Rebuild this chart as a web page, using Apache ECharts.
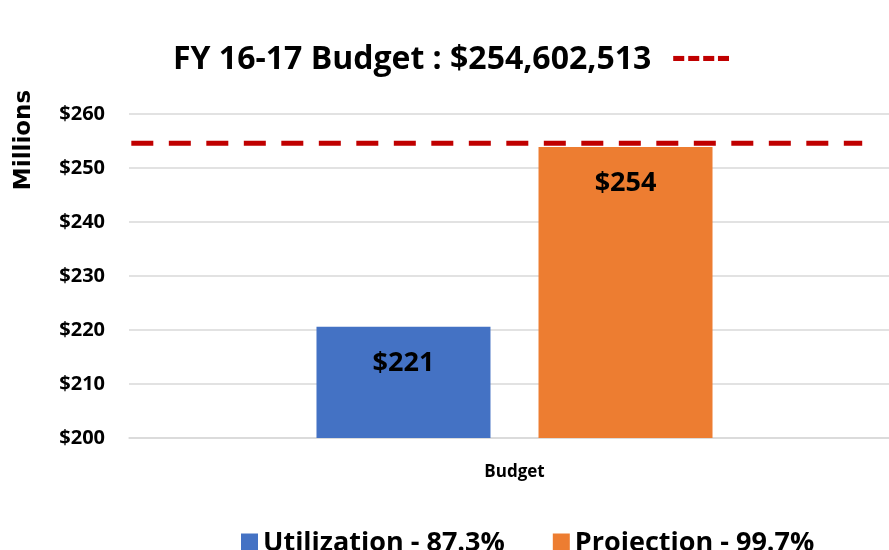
<!DOCTYPE html>
<html>
<head>
<meta charset="utf-8">
<script src="https://cdn.jsdelivr.net/npm/echarts@6/dist/echarts.min.js"></script>
<style>
  html, body { margin: 0; padding: 0; background: #fff; }
  #chart { width: 889px; height: 550px; }
</style>
</head>
<body>
<div id="chart"></div>
<script>
var categories = ["Budget"]
var utilization = [220.6]
var projection = [253.9]
var budgetLine = 254.6
var seriesNames = ["Utilization - 87.3%", "Projection - 99.7%"]
var yTicks = { min: 200, max: 260, step: 10 }
// the budget line spans this share of the plot width
var lineSpan = [0.003, 0.951]

var FONT = "'Open Sans', sans-serif"
var myChart = echarts.init(document.getElementById("chart"))

var labelStyle = {
  show: true,
  position: "insideTop",
  distance: 23,
  color: "#000",
  fontFamily: FONT,
  fontWeight: "bold",
  fontSize: 27,
  formatter: function (p) { return "$" + Math.round(p.value) }
}

myChart.setOption({
  animation: false,
  title: {
    text: "{t|FY 16-17 Budget : $254,602,513}    {d|----}",
    left: 168,
    top: 37,
    textStyle: {
      rich: {
        t: { fontFamily: FONT, fontWeight: "bold", fontSize: 32, color: "#000" },
        d: { fontFamily: "'DejaVu Sans', sans-serif", fontWeight: "bold", fontSize: 36, color: "#c00000" }
      }
    }
  },
  legend: {
    bottom: -12,
    left: 236,
    itemWidth: 17,
    itemHeight: 20,
    itemGap: 48,
    icon: "rect",
    textStyle: { fontFamily: FONT, fontWeight: "bold", fontSize: 27, color: "#000" },
    data: seriesNames
  },
  grid: { left: 129, right: -11, top: 114, bottom: 112, outerBoundsMode: "none" },
  xAxis: [
    {
      type: "category",
      data: categories,
      axisLine: { lineStyle: { color: "#d9d9d9", width: 1.5 } },
      axisTick: { show: false },
      axisLabel: { color: "#000", fontFamily: FONT, fontWeight: "bold", fontSize: 17, margin: 26 }
    },
    { type: "value", min: 0, max: 1, show: false }
  ],
  yAxis: {
    type: "value",
    min: yTicks.min,
    max: yTicks.max,
    interval: yTicks.step,
    name: "Millions",
    nameLocation: "end",
    nameRotate: 90,
    nameGap: 0,
    nameTextStyle: {
      fontFamily: "'DejaVu Sans', sans-serif", fontWeight: "bold", fontSize: 23, color: "#000",
      align: "center", verticalAlign: "bottom", padding: [0, 52, 93, 0]
    },
    axisLine: { show: false },
    axisTick: { show: false },
    splitLine: { lineStyle: { color: "#d9d9d9", width: 1.5 } },
    axisLabel: {
      color: "#000", fontFamily: FONT, fontWeight: "bold", fontSize: 20, margin: 24,
      formatter: function (v) { return "$" + v }
    }
  },
  series: [
    {
      name: seriesNames[0],
      type: "bar",
      data: utilization,
      barWidth: 174,
      barGap: "27.6%",
      itemStyle: { color: "#4472c4" },
      label: labelStyle
    },
    {
      name: seriesNames[1],
      type: "bar",
      data: projection,
      barWidth: 174,
      itemStyle: { color: "#ed7d31" },
      label: labelStyle
    },
    {
      name: "Budget",
      type: "line",
      xAxisIndex: 1,
      data: [[lineSpan[0], budgetLine], [lineSpan[1], budgetLine]],
      symbol: "none",
      silent: true,
      z: 5,
      lineStyle: { color: "#c00000", type: [22, 15.5], width: 5 }
    }
  ]
})
</script>
</body>
</html>
